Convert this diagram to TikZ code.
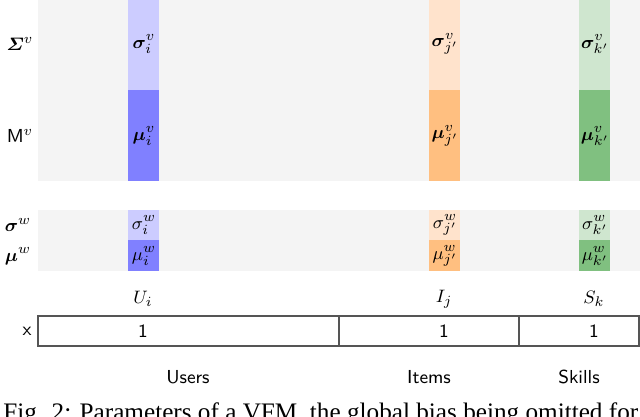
\documentclass[tikz,border=0pt]{standalone}
\usepackage{amsmath,bm}
\usepackage[no-math]{fontspec}
\newfontfamily\capfont{Liberation Serif}
\definecolor{panel}{HTML}{F4F4F4}
\definecolor{blueL}{HTML}{CCCCFF}
\definecolor{blueD}{HTML}{8080FF}
\definecolor{orL}{HTML}{FFE3CC}
\definecolor{orD}{HTML}{FFBF80}
\definecolor{grL}{HTML}{CFE6CF}
\definecolor{grD}{HTML}{80C080}
\definecolor{edge}{HTML}{555555}
\tikzset{
  lbl/.style={font=\fontsize{9.4}{11}\selectfont\sffamily, inner sep=0pt},
  cell/.style={lbl},
  onebox/.style={draw=edge, line width=0.6pt}
}
\begin{document}
\begin{tikzpicture}[x=0.5pt,y=-0.5pt]
\useasboundingbox (0,0) rectangle (640,416);
\clip (0,0) rectangle (640,416);
% panels
\fill[panel] (38,0) rectangle (640,181);
\fill[panel] (38,210) rectangle (640,271);
% columns top
\fill[blueL] (128,0) rectangle (159,90);
\fill[blueD] (128,90) rectangle (159,181);
\fill[orL] (429,0) rectangle (460,90);
\fill[orD] (429,90) rectangle (460,181);
\fill[grL] (579,0) rectangle (610,90);
\fill[grD] (579,90) rectangle (610,181);
% columns bottom
\fill[blueL] (128,210) rectangle (159,240);
\fill[blueD] (128,240) rectangle (159,271);
\fill[orL] (429,210) rectangle (460,240);
\fill[orD] (429,240) rectangle (460,271);
\fill[grL] (579,210) rectangle (610,240);
\fill[grD] (579,240) rectangle (610,271);
% row labels
\node[lbl] (Sv) at (20,44) {$\boldsymbol{\varSigma}^{v}$};
\node[lbl] (Mv) at (20,136) {M$^{v}$};
\node[lbl] (sw) at (18,225) {$\boldsymbol{\sigma}^{w}$};
\node[lbl] (mw) at (18,256) {$\boldsymbol{\mu}^{w}$};
% cells
\node[cell] (su) at (144,44) {$\boldsymbol{\sigma}_i^{v}$};
\node[cell] (mu) at (144,136) {$\boldsymbol{\mu}_i^{v}$};
\node[cell] (si) at (445,44) {$\boldsymbol{\sigma}_{j'}^{v}$};
\node[cell] (mi) at (445,136) {$\boldsymbol{\mu}_{j'}^{v}$};
\node[cell] (ss) at (595,44) {$\boldsymbol{\sigma}_{k'}^{v}$};
\node[cell] (ms) at (595,136) {$\boldsymbol{\mu}_{k'}^{v}$};
\node[cell] (swu) at (144,225) {$\sigma_i^{w}$};
\node[cell] (mwu) at (144,256) {$\mu_i^{w}$};
\node[cell] (swi) at (445,225) {$\sigma_{j'}^{w}$};
\node[cell] (mwi) at (445,256) {$\mu_{j'}^{w}$};
\node[cell] (sws) at (595,225) {$\sigma_{k'}^{w}$};
\node[cell] (mws) at (595,256) {$\mu_{k'}^{w}$};
% feature labels
\node[lbl] (Ui) at (143,299) {$U_i$};
\node[lbl] (Ij) at (444,299) {$I_j$};
\node[lbl] (Sk) at (594,299) {$S_k$};
% x box
\draw[onebox] (38,316) rectangle (639,346);
\draw[onebox] (339,316) -- (339,346);
\draw[onebox] (519,316) -- (519,346);
\node[lbl] (x) at (27,331) {x};
\node[lbl] (one1) at (143,331) {1};
\node[lbl] (one2) at (444,331) {1};
\node[lbl] (one3) at (594,331) {1};
% groups
\node[lbl] (users) at (188,377) {Users};
\node[lbl] (items) at (429,377) {Items};
\node[lbl] (skills) at (579,377) {Skills};
% caption
\node[anchor=base west, inner sep=0pt, font=\fontsize{12.6}{14}\selectfont\capfont] (cap) at (3,420) {Fig. 2: Parameters of a VFM, the global bias being omitted for};
\end{tikzpicture}
\end{document}
